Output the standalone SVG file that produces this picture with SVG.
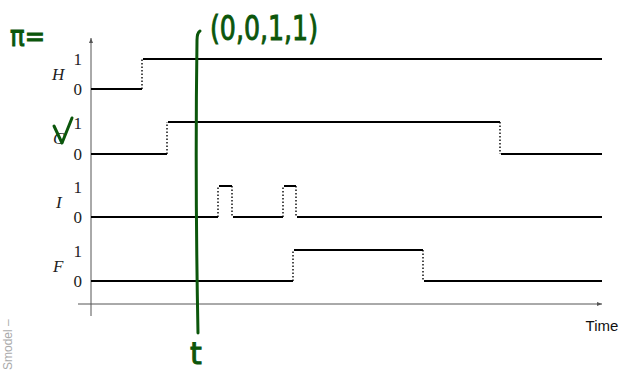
<svg xmlns="http://www.w3.org/2000/svg" width="622" height="372" viewBox="0 0 622 372">
<style>
.sig{fill:none;stroke:#000;stroke-width:1.8;stroke-linejoin:round}
.dot{fill:none;stroke:#000;stroke-width:1.4;stroke-dasharray:1.5 2}
.ax{fill:none;stroke:#555;stroke-width:1}
.num{font-family:"Liberation Serif",serif;font-size:17px;fill:#222;text-anchor:end}
.var{font-family:"Liberation Serif",serif;font-style:italic;font-size:17px;fill:#222}
.ink{fill:none;stroke:#0b560b;stroke-width:3;stroke-linecap:round;stroke-linejoin:round}
.hand{font-family:"DejaVu Sans",sans-serif;fill:#0b560b;stroke:#0b560b;stroke-width:1}
</style>
<defs>
<marker id="arr" viewBox="0 0 6 6" refX="5" refY="3" markerWidth="6" markerHeight="6" orient="auto" markerUnits="userSpaceOnUse">
<path d="M0,1 L5,3 L0,5 Z" fill="#555"/>
</marker>
</defs>
<rect width="622" height="372" fill="#fff"/>
<text transform="translate(12,370) rotate(-90)" font-family="Liberation Sans,sans-serif" font-size="12" fill="#aaa">Smodel –</text>
<g id="axes">
<line class="ax" x1="91" y1="316" x2="91" y2="38" marker-end="url(#arr)"/>
<line class="ax" x1="78" y1="304" x2="602" y2="304" marker-end="url(#arr)"/>
<text x="602" y="331" font-family="Liberation Sans,sans-serif" font-size="15" text-anchor="middle" fill="#111">Time</text>
</g>
<g id="H">
<text class="var" x="52" y="80">H</text>
<text class="num" x="82" y="65">1</text>
<text class="num" x="82" y="95">0</text>
<path class="sig" d="M91,89 H142 M143,59 H602"/>
<path class="dot" d="M142,89 V59"/>
</g>
<g id="C">
<text class="var" x="53" y="144">C</text>
<text class="num" x="82" y="129">1</text>
<text class="num" x="82" y="160">0</text>
<path class="sig" d="M91,154 H167 M168,122 H500 M501,154 H602"/>
<path class="dot" d="M167,154 V122 M500,122 V154"/>
</g>
<g id="I">
<text class="var" x="56" y="208">I</text>
<text class="num" x="82" y="193">1</text>
<text class="num" x="82" y="223">0</text>
<path class="sig" d="M91,217 H218 M219,186 H232 M233,217 H283 M284,186 H296 M297,217 H602"/>
<path class="dot" d="M218,217 V186 M232,186 V217 M283,217 V186 M296,186 V217"/>
</g>
<g id="F">
<text class="var" x="53" y="272">F</text>
<text class="num" x="82" y="257">1</text>
<text class="num" x="82" y="287">0</text>
<path class="sig" d="M91,281 H293 M294,250 H423 M424,281 H602"/>
<path class="dot" d="M293,281 V250 M423,250 V281"/>
</g>
<g id="annotations">
<path class="ink" d="M200,31 Q197,33 197,40 Q195,180 198,333"/>
<text class="hand" x="10" y="46" font-size="28" textLength="35" lengthAdjust="spacingAndGlyphs">π=</text>
<text class="hand" x="210" y="40" font-size="34" textLength="108" lengthAdjust="spacingAndGlyphs">(0,0,1,1)</text>
<text class="hand" x="190" y="364" font-size="30">t</text>
<path class="ink" d="M54,126 L62,143 L72,118"/>
</g>
</svg>
